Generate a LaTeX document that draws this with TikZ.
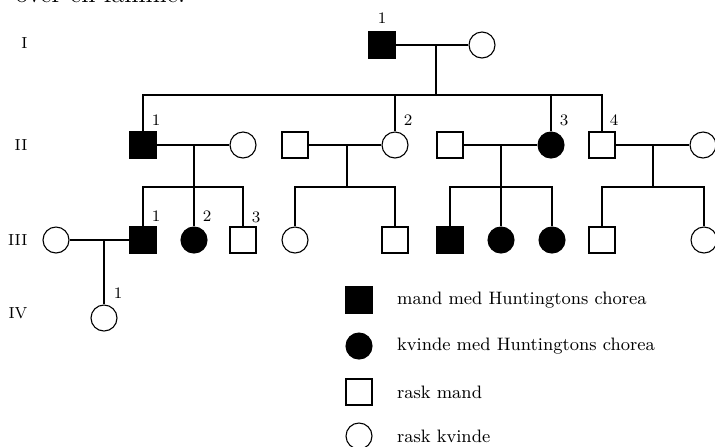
\documentclass[tikz,border=0pt]{standalone}
\usetikzlibrary{positioning,calc}

\begin{document}
\begin{tikzpicture}[
  x=0.5pt, y=-0.5pt, line width=0.55pt,
  male/.style={draw, rectangle, minimum size=13pt, inner sep=0pt},
  female/.style={draw, circle, minimum size=13pt, inner sep=0pt},
  sick/.style={fill=black},
  num/.style={font=\fontsize{8}{9}\selectfont, inner sep=0pt},
  gen/.style={font=\fontsize{8}{9}\selectfont, anchor=east, inner sep=0pt},
  key/.style={font=\fontsize{9}{11}\selectfont, inner sep=0pt},
]
\useasboundingbox (0,0) rectangle (715,446);
\clip (0,0) rectangle (715,446);

\node[anchor=base west, inner sep=0pt, font=\fontsize{13}{15}\selectfont] (head) at (15,2.5) {over en familie.};

% generation labels
\node[gen] (gi) at (28,43) {I};
\node[gen] (gii) at (28,145) {II};
\node[gen] (giii) at (28,240) {III};
\node[gen] (giv) at (28,313) {IV};

% generation I
\node[male, sick] (i1) at (382,45) {};
\node[female] (i2) at (482,45) {};
\node[num] at (382,18) {1};

% generation II
\node[male, sick] (ii1) at (143,145) {};
\node[female] (w1) at (243,145) {};
\node[male] (h2) at (295,145) {};
\node[female] (ii2) at (395,145) {};
\node[male] (h3) at (450,145) {};
\node[female, sick] (ii3) at (551,145) {};
\node[male] (ii4) at (602,145) {};
\node[female] (w4) at (703,145) {};
\node[num] at (156,120) {1};
\node[num] at (408,120) {2};
\node[num] at (564,120) {3};
\node[num] at (614,120) {4};

% generation III
\node[female] (p1) at (56,240) {};
\node[male, sick] (iii1) at (143,240) {};
\node[female, sick] (iii2) at (194,240) {};
\node[male] (iii3) at (243,240) {};
\node[female] (iii4) at (295,240) {};
\node[male] (iii5) at (395,240) {};
\node[male, sick] (iii6) at (450,240) {};
\node[female, sick] (iii7) at (501,240) {};
\node[female, sick] (iii8) at (552,240) {};
\node[male] (iii9) at (602,240) {};
\node[female] (iii10) at (704,240) {};
\node[num] at (156,216) {1};
\node[num] at (207,216) {2};
\node[num] at (256,217) {3};

% generation IV
\node[female] (iv1) at (104,318) {};
\node[num] at (118,293) {1};

% lines
\draw (i1) -- (i2);
\coordinate (ci) at (436,45);
\coordinate (si) at (436,95);
\draw (ci) -- (si);
\draw (ii1.north) |- (si) -| (ii4.north);
\draw (ii2.north) -- (ii2.north |- si);
\draw (ii3.north) -- (ii3.north |- si);

\draw (ii1) -- (w1);
\coordinate (c1) at (194,145);
\coordinate (s1) at (194,187);
\draw (c1) -- (iii2);
\draw (iii1.north) |- (s1) -| (iii3.north);

\draw (h2) -- (ii2);
\coordinate (c2) at (347,145);
\coordinate (s2) at (347,187);
\draw (c2) -- (s2);
\draw (iii4.north) |- (s2) -| (iii5.north);

\draw (h3) -- (ii3);
\coordinate (c3) at (501,145);
\coordinate (s3) at (501,187);
\draw (c3) -- (iii7);
\draw (iii6.north) |- (s3) -| (iii8.north);

\draw (ii4) -- (w4);
\coordinate (c4) at (653,145);
\coordinate (s4) at (653,187);
\draw (c4) -- (s4);
\draw (iii9.north) |- (s4) -| (iii10.north);

\draw (p1) -- (iii1);
\coordinate (c5) at (104,240);
\draw (c5) -- (iv1);

% legend
\node[male, sick] (lm) at (359,300) {};
\node[key, right=12pt of lm] (tm) {mand med Huntingtons chorea};
\node[female, sick] (lf) at (359,346) {};
\node[key, right=12pt of lf] (tf) {kvinde med Huntingtons chorea};
\node[male] (lh) at (359,392) {};
\node[key, right=12pt of lh] (th) {rask mand};
\node[female] (lw) at (359,436) {};
\node[key, right=12pt of lw] (tw) {rask kvinde};

\end{tikzpicture}
\end{document}
